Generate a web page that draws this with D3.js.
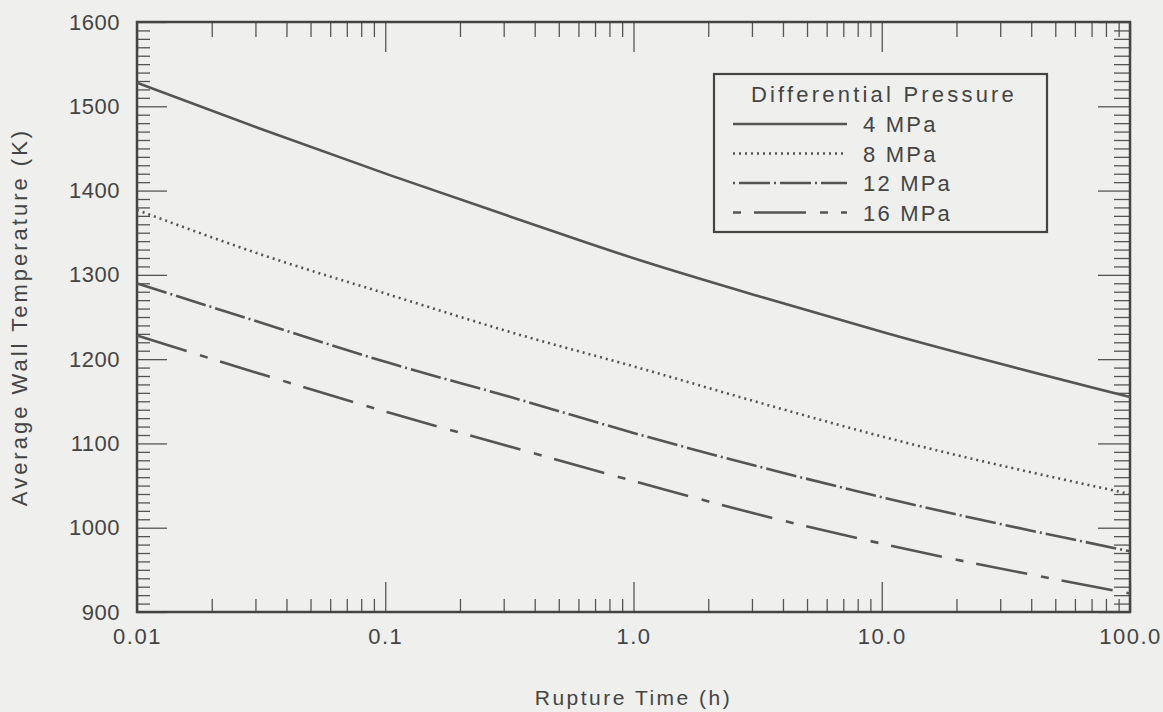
<!DOCTYPE html>
<html>
<head>
<meta charset="utf-8">
<script src="https://cdn.jsdelivr.net/npm/d3@7"></script>
<style>
  body { margin: 0; background: #efefed; }
  svg { display: block; }
  text { font-family: "Liberation Sans", Arial, sans-serif; fill: #444; }
  .tick line, .domain { stroke: #555; }
</style>
</head>
<body>
<div id="chart"></div>
<script>
// rupture time (h) at the points
const times = [0.01, 0.031, 0.105, 0.32, 1.07, 3.25, 10.4, 100];
// average wall temperature (K) per differential pressure
const temp4 = [1528, 1474, 1418, 1369, 1317, 1274, 1231, 1155];
const temp8 = [1377, 1325, 1276, 1232, 1189, 1148, 1107, 1040];
const temp12 = [1290, 1244, 1195, 1155, 1110, 1072, 1035, 972];
const temp16 = [1228, 1183, 1136, 1096, 1053, 1015, 980, 922];
const seriesNames = ["4 MPa", "8 MPa", "12 MPa", "16 MPa"];
const xTickLabels = ["0.01", "0.1", "1.0", "10.0", "100.0"];
const yTicks = [900, 1000, 1100, 1200, 1300, 1400, 1500, 1600];

const W = 1163, H = 712;
const margin = {top: 22, right: 33, bottom: 100, left: 137};
const dashes = [null, "2,4", "31,4,2,4", "52,14,8,13"];
const legendOffsets = [0, 0, 35, 66]; // legend samples start on the short mark

const svg = d3.select("#chart").append("svg")
    .attr("width", W).attr("height", H);

const x = d3.scaleLog().domain([0.01, 100]).range([margin.left, W - margin.right]);
const y = d3.scaleLinear().domain([900, 1600]).range([H - margin.bottom, margin.top]);

// minor ticks
const xMinor = [];
for (let d = 0.01; d < 100; d *= 10)
  for (let k = 2; k <= 9; k++) xMinor.push(d * k);
const xMajor = [0.01, 0.1, 1, 10, 100];
const yMinor = d3.range(900, 1601, 10).filter(v => v % 100 != 0);

function noLabel(g) { g.selectAll("text").remove(); g.select(".domain").remove(); }

// bottom axis
svg.append("g").attr("transform", `translate(0,${y(900)})`)
    .call(d3.axisBottom(x).tickValues(xMinor).tickSize(-13)).call(noLabel);
svg.append("g").attr("transform", `translate(0,${y(900)})`)
    .call(d3.axisBottom(x).tickValues(xMajor).tickSize(-30).tickPadding(16)
      .tickFormat((d, i) => xTickLabels[i]))
    .call(g => g.select(".domain").remove())
    .selectAll("text").style("font-size", "22px").style("letter-spacing", "1.5px");
// top axis
svg.append("g").attr("transform", `translate(0,${y(1600)})`)
    .call(d3.axisTop(x).tickValues(xMinor).tickSize(-15)).call(noLabel);
svg.append("g").attr("transform", `translate(0,${y(1600)})`)
    .call(d3.axisTop(x).tickValues(xMajor).tickSize(-30)).call(noLabel);

// left axis
svg.append("g").attr("transform", `translate(${x(0.01)},0)`)
    .call(d3.axisLeft(y).tickValues(yMinor).tickSize(-13)).call(noLabel);
svg.append("g").attr("transform", `translate(${x(0.01)},0)`)
    .call(d3.axisLeft(y).tickValues(yTicks).tickSize(-30).tickPadding(17).tickFormat(d3.format("d")))
    .call(g => g.select(".domain").remove())
    .selectAll("text").style("font-size", "22px").style("letter-spacing", "0.5px");
// right axis
svg.append("g").attr("transform", `translate(${x(100)},0)`)
    .call(d3.axisRight(y).tickValues(yMinor).tickSize(-16)).call(noLabel);
svg.append("g").attr("transform", `translate(${x(100)},0)`)
    .call(d3.axisRight(y).tickValues(yTicks).tickSize(-32)).call(noLabel);

svg.selectAll(".tick line").attr("stroke-width", 1.3);

// frame
svg.append("rect")
    .attr("x", x(0.01)).attr("y", y(1600))
    .attr("width", x(100) - x(0.01)).attr("height", y(900) - y(1600))
    .attr("fill", "none").attr("stroke", "#444").attr("stroke-width", 2.5);

// curves
const line = d3.line()
    .x(d => x(d[0])).y(d => y(d[1]))
    .curve(d3.curveMonotoneX);
[temp4, temp8, temp12, temp16].forEach((s, i) => {
  svg.append("path")
      .attr("d", line(times.map((t, j) => [t, s[j]])))
      .attr("fill", "none").attr("stroke", "#555")
      .attr("stroke-width", 2.6)
      .attr("stroke-dasharray", dashes[i]);
});

// axis titles
svg.append("text")
    .attr("x", (x(0.01) + x(100)) / 2).attr("y", 705)
    .attr("text-anchor", "middle")
    .style("font-size", "21px").style("letter-spacing", "2.5px")
    .text("Rupture Time (h)");
svg.append("text")
    .attr("transform", `translate(27,${(y(900) + y(1600)) / 2}) rotate(-90)`)
    .attr("text-anchor", "middle")
    .style("font-size", "22px").style("letter-spacing", "3px")
    .text("Average Wall Temperature (K)");

// legend
const lg = svg.append("g").attr("transform", "translate(714,74)");
lg.append("rect").attr("width", 333).attr("height", 158)
    .attr("fill", "none").attr("stroke", "#444").attr("stroke-width", 2.2);
lg.append("text").attr("x", 170).attr("y", 28)
    .attr("text-anchor", "middle")
    .style("font-size", "22px").style("letter-spacing", "3.2px")
    .text("Differential Pressure");
seriesNames.forEach((name, i) => {
  const yy = 50 + i * 29.5;
  lg.append("line").attr("x1", 19).attr("x2", 133).attr("y1", yy).attr("y2", yy)
      .attr("stroke", "#555").attr("stroke-width", 2.4)
      .attr("stroke-dasharray", dashes[i])
      .attr("stroke-dashoffset", legendOffsets[i]);
  lg.append("text").attr("x", 149).attr("y", yy + 8)
      .style("font-size", "22px").style("letter-spacing", "2.2px")
      .text(name);
});
</script>
</body>
</html>
